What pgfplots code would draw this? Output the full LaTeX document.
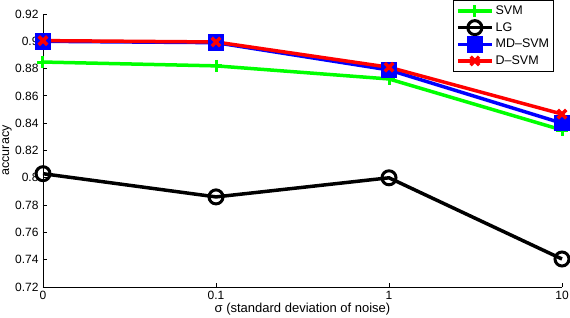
\documentclass[border=0pt]{standalone}
\usepackage{fontspec}
\setmainfont{Liberation Sans}
\usepackage{pgfplots}
\pgfplotsset{compat=1.18}
\usetikzlibrary{calc}
\definecolor{mgreen}{RGB}{0,255,0}
\definecolor{mblue}{RGB}{0,0,255}
\definecolor{mred}{RGB}{255,0,0}
\begin{document}
\begin{tikzpicture}
\begin{axis}[
  scale only axis,
  width=519pt, height=273pt,
  xmin=0, xmax=3, ymin=0.72, ymax=0.92,
  xtick={0,1,2,3}, xticklabels={0,0.1,1,10},
  ytick={0.72,0.74,0.76,0.78,0.80,0.82,0.84,0.86,0.88,0.90,0.92},
  axis x line*=bottom, axis y line*=left,
  axis line style={line width=0.8pt},
  tick style={line width=0.8pt, black},
  tick align=inside, major tick length=4pt,
  /pgf/number format/assume math mode=true,
  /pgf/number format/precision=2,
  tick label style={font=\fontsize{12}{14}\selectfont},
  yticklabel style={xshift=-1pt},
  xticklabel style={yshift=-1pt},
  xlabel={σ (standard deviation of noise)},
  ylabel={accuracy},
  every axis x label/.style={at={(axis description cs:0.5,0)}, anchor=center, yshift=-22pt, font=\fontsize{13}{15}\selectfont},
  every axis y label/.style={at={(axis description cs:0,0.5)}, anchor=center, rotate=90, yshift=36pt, font=\fontsize{12.5}{15}\selectfont},
  clip=false,
  every axis plot/.append style={line width=3.5pt},
  legend image code/.code={\draw[mark repeat=2,mark phase=2] plot coordinates {(0pt,0pt) (17pt,0pt) (34pt,0pt)};},
  legend style={at={(rel axis cs:1,1)}, anchor=north east, xshift=-8pt, yshift=14pt,
    draw=black, line width=0.8pt, font=\fontsize{12.5}{14}\selectfont, legend cell align=left,
    row sep=2.4pt, inner sep=2.5pt, inner ysep=3.5pt},
]
\addplot[color=mgreen, mark=+, mark size=6pt, mark options={line width=3pt}] coordinates {(0,0.8848) (1,0.882) (2,0.8724) (3,0.835)};
\addlegendentry{SVM}
\addplot[color=black, mark=o, mark size=7pt, mark options={line width=3pt}] coordinates {(0,0.803) (1,0.786) (2,0.800) (3,0.7405)};
\addlegendentry{LG}
\addplot[color=mblue, mark=square*, mark size=6.5pt] coordinates {(0,0.900) (1,0.899) (2,0.879) (3,0.840)};
\addlegendentry{MD--SVM}
\addplot[color=mred, mark=x, mark size=6pt, mark options={line width=3.5pt}] coordinates {(0,0.9005) (1,0.8995) (2,0.881) (3,0.8467)};
\addlegendentry{D--SVM}
\coordinate (bl) at (rel axis cs:0,0);
\end{axis}
\pgfresetboundingbox
\path ($(bl)+(-43pt,-31pt)$) rectangle ($(bl)+(527pt,287pt)$);
\end{tikzpicture}
\end{document}
